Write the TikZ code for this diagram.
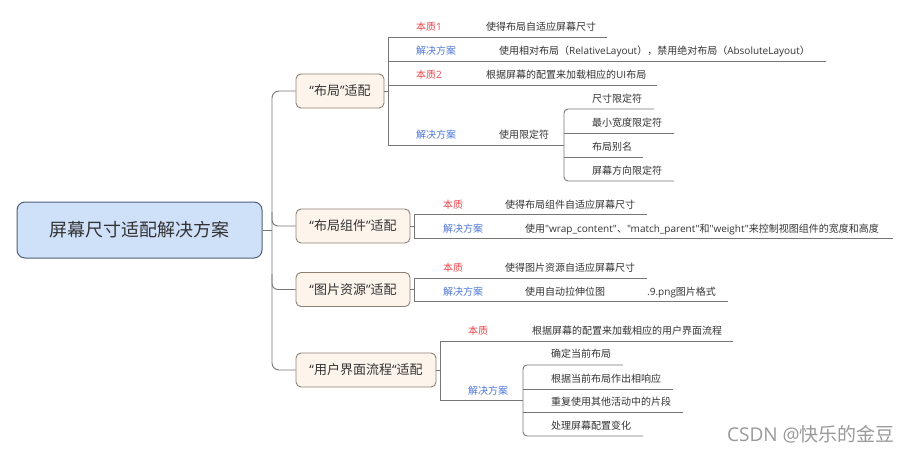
\documentclass[tikz,border=0pt]{standalone}
\usepackage{fontspec}
\setmainfont{Noto Sans CJK SC}
\newfontfamily\lat[Ligatures=NoCommon]{Open Sans}
\definecolor{linegray}{HTML}{767676}
\definecolor{rootfill}{HTML}{CFE0F9}
\definecolor{rootborder}{HTML}{4F5F78}
\definecolor{topicfill}{HTML}{FDF5EC}
\definecolor{topicborder}{HTML}{8D7F72}
\definecolor{textdark}{HTML}{333333}
\definecolor{redlblc}{HTML}{E8474C}
\definecolor{bluelblc}{HTML}{4F78D6}
\newcommand{\myoq}{{\lat “}}
\newcommand{\mycq}{{\lat ”}}
\begin{document}
\begin{tikzpicture}[x=1pt,y=-1pt,
  conn/.style={draw=linegray, line width=0.9pt},
  root/.style={draw=rootborder, fill=rootfill, line width=1pt, rounded corners=8pt,
    minimum width=245pt, minimum height=56pt, inner sep=0pt,
    font=\fontsize{18}{20}\selectfont, text=textdark},
  topic/.style={draw=topicborder, fill=topicfill, line width=0.9pt, rounded corners=5pt,
    minimum height=34pt, inner sep=0pt, font=\fontsize{13}{15}\selectfont, text=textdark},
  txt/.style={anchor=west, inner sep=0pt, font=\fontsize{10}{12}\selectfont, text=textdark},
  redlbl/.style={txt, text=redlblc},
  bluelbl/.style={txt, text=bluelblc},
]
\useasboundingbox (0,0) rectangle (910,452);

% root and main topics
\node[root] (root) at (139.5,230) {屏幕尺寸适配解决方案};
\node[topic, minimum width=88pt]  (t1) at (340,91)    {\myoq 布局\mycq 适配};
\node[topic, minimum width=114pt] (t2) at (353,226)   {\myoq 布局组件\mycq 适配};
\node[topic, minimum width=114pt] (t3) at (353,289.5) {\myoq 图片资源\mycq 适配};
\node[topic, minimum width=140pt] (t4) at (366,370)   {\myoq 用户界面流程\myoq 适配};

% trunk
\coordinate (tk) at (272,230);
\draw[conn] (root.east) -- (tk);
\draw[conn, rounded corners=7pt] (t1.west) -| (tk) |- (t4.west);
\draw[conn, rounded corners=6pt] (272,212) |- (t2.west);
\draw[conn, rounded corners=6pt] (272,274) |- (t3.west);

% ---------- branch 1 ----------
\coordinate (b1) at (388,91);
\draw[conn] (t1.east) -- (b1);
\draw[conn] (607,37) -- (388,37) -- (388,145) -- (564,145);
\draw[conn] (388,61) -- (826,61);
\draw[conn] (388,85) -- (657,85);
\node[redlbl]  (l11) at (416,27)  {本质{\lat 1}};
\node[txt]     (c11) at (486,27)  {使得布局自适应屏幕尺寸};
\node[bluelbl] (l12) at (416,51)  {解决方案};
\node[txt]     (c12) at (499,51)  {使用相对布局（{\lat RelativeLayout}），禁用绝对布局（{\lat AbsoluteLayout}）};
\node[redlbl]  (l13) at (416,75)  {本质{\lat 2}};
\node[txt]     (c13) at (486,75)  {根据屏幕的配置来加载相应的{\lat UI}布局};
\node[bluelbl] (l14) at (416,135) {解决方案};
\node[txt]     (c14) at (499,135) {使用限定符};
% qualifiers
\draw[conn, rounded corners=4pt] (654,109) -- (564,109) -- (564,181) -- (674,181);
\draw[conn] (564,133) -- (674,133);
\draw[conn] (564,157) -- (643,157);
\node[txt] (q1) at (592,99)  {尺寸限定符};
\node[txt] (q2) at (592,123) {最小宽度限定符};
\node[txt] (q3) at (592,147) {布局别名};
\node[txt] (q4) at (592,171) {屏幕方向限定符};

% ---------- branch 2 ----------
\draw[conn] (t2.east) -- (414,226);
\draw[conn] (647,214) -- (414,214) -- (414,238) -- (893,238);
\node[redlbl]  (l21) at (443,205) {本质};
\node[txt]     (c21) at (505,205) {使得布局组件自适应屏幕尺寸};
\node[bluelbl] (l22) at (443,229) {解决方案};
\node[txt]     (c22) at (525,229) {使用{\lat "wrap\_content"}、{\lat "match\_parent"}和{\lat "weight"}来控制视图组件的宽度和高度};

% ---------- branch 3 ----------
\draw[conn] (t3.east) -- (414,289.5);
\draw[conn] (647,278) -- (414,278) -- (414,301) -- (728,301);
\node[redlbl]  (l31) at (443,268) {本质};
\node[txt]     (c31) at (505,268) {使得图片资源自适应屏幕尺寸};
\node[bluelbl] (l32) at (443,292) {解决方案};
\node[txt]     (c32) at (525,292) {使用自动拉伸位图};
\node[txt]     (c33) at (647,292) {{\lat .9.png}图片格式};

% ---------- branch 4 ----------
\draw[conn] (t4.east) -- (440,370);
\draw[conn] (733,341) -- (440,341) -- (440,400) -- (523,400);
\node[redlbl]  (l41) at (468,331) {本质};
\node[txt]     (c41) at (532,331) {根据屏幕的配置来加载相应的用户界面流程};
\node[bluelbl] (l42) at (468,391) {解决方案};
\draw[conn, rounded corners=4pt] (623,365) -- (523,365) -- (523,436) -- (643,436);
\draw[conn] (523,389) -- (673,389);
\draw[conn] (523,412) -- (683,412);
\node[txt] (s1) at (551,354) {确定当前布局};
\node[txt] (s2) at (551,379) {根据当前布局作出相响应};
\node[txt] (s3) at (551,402) {重复使用其他活动中的片段};
\node[txt] (s4) at (551,426) {处理屏幕配置变化};

% watermark
\node[anchor=east, inner sep=0pt, font=\fontsize{19}{21}\selectfont, text=black!40] (wm) at (895,434) {{\lat CSDN @}快乐的金豆};
\end{tikzpicture}
\end{document}
